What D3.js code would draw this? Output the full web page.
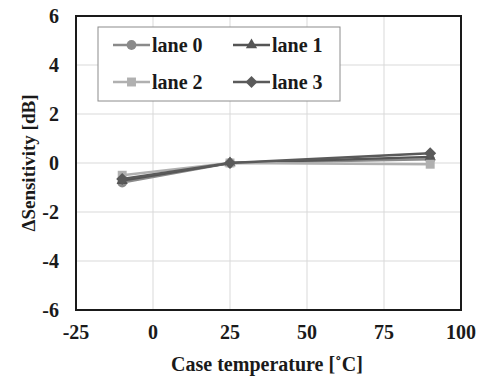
<!DOCTYPE html>
<html>
<head>
<meta charset="utf-8">
<script src="https://cdn.jsdelivr.net/npm/d3@7"></script>
<style>
  body { margin: 0; background: #fff; }
</style>
</head>
<body>
<svg id="chart" width="483" height="376"></svg>
<script>
const temps = [-10, 25, 90];
const laneNames = ['lane 0', 'lane 1', 'lane 2', 'lane 3'];
const lane0 = [-0.8, 0, 0.15];
const lane1 = [-0.72, 0, 0.25];
const lane2 = [-0.5, 0, -0.05];
const lane3 = [-0.65, 0, 0.4];
const xTicks = [-25, 0, 25, 50, 75, 100];
const yTicks = [-6, -4, -2, 0, 2, 4, 6];

const series = [
  { name: laneNames[0], values: lane0, color: '#8a8a8a', marker: 'circle' },
  { name: laneNames[1], values: lane1, color: '#555555', marker: 'triangle' },
  { name: laneNames[2], values: lane2, color: '#b0b0b0', marker: 'square' },
  { name: laneNames[3], values: lane3, color: '#5a5a5a', marker: 'diamond' }
];

const svg = d3.select('#chart');
const margin = { left: 76, right: 22, top: 16, bottom: 66 };
const width = 483, height = 376;
const ink = '#1a1a1a';
const serif = '"Liberation Serif", "Times New Roman", serif';

const x = d3.scaleLinear().domain([-25, 100]).range([margin.left, width - margin.right]);
const y = d3.scaleLinear().domain([-6, 6]).range([height - margin.bottom, margin.top]);

function label(sel, size) {
  sel.style('font-family', serif).style('font-weight', 'bold')
    .style('font-size', size + 'px').attr('fill', ink);
}

// grid
svg.append('g').selectAll('line').data(xTicks).enter().append('line')
  .attr('x1', d => x(d)).attr('x2', d => x(d))
  .attr('y1', y(-6)).attr('y2', y(6))
  .attr('stroke', '#d9d9d9').attr('stroke-width', 1);
svg.append('g').selectAll('line').data(yTicks).enter().append('line')
  .attr('x1', x(-25)).attr('x2', x(100))
  .attr('y1', d => y(d)).attr('y2', d => y(d))
  .attr('stroke', '#d9d9d9').attr('stroke-width', 1);

// tick labels
svg.append('g').selectAll('text').data(xTicks).enter().append('text')
  .attr('x', d => x(d)).attr('y', y(-6) + 29)
  .attr('text-anchor', 'middle').call(label, 20)
  .text(d => d);
svg.append('g').selectAll('text').data(yTicks).enter().append('text')
  .attr('x', x(-25) - 17).attr('y', d => y(d) + 7)
  .attr('text-anchor', 'end').call(label, 20)
  .text(d => d);

// axis titles
svg.append('text')
  .attr('x', 267).attr('y', 371)
  .attr('text-anchor', 'middle').call(label, 20)
  .text('Case temperature [\u02daC]');
svg.append('text')
  .attr('transform', `translate(35, ${(y(-6) + y(6)) / 2}) rotate(-90)`)
  .attr('text-anchor', 'middle').call(label, 19)
  .text('\u0394Sensitivity [dB]');

// markers
function marker(sel, type) {
  if (type === 'circle') sel.attr('d', d3.symbol().type(d3.symbolCircle).size(75));
  else if (type === 'triangle') sel.attr('d', d3.symbol().type(d3.symbolTriangle).size(55));
  else if (type === 'square') sel.attr('d', d3.symbol().type(d3.symbolSquare).size(80));
  else sel.attr('d', 'M0,-6L6,0L0,6L-6,0Z');
}

const line = d3.line().x((d, i) => x(temps[i])).y(d => y(d));

// series
series.forEach(s => {
  svg.append('path')
    .attr('d', line(s.values))
    .attr('fill', 'none')
    .attr('stroke', s.color)
    .attr('stroke-width', 2.5);
  svg.append('g').selectAll('path').data(s.values).enter().append('path')
    .attr('transform', (d, i) => `translate(${x(temps[i])},${y(d)})`)
    .attr('fill', s.color)
    .call(marker, s.marker);
});

// plot border
svg.append('rect')
  .attr('x', x(-25)).attr('y', y(6))
  .attr('width', x(100) - x(-25)).attr('height', y(-6) - y(6))
  .attr('fill', 'none').attr('stroke', ink).attr('stroke-width', 2);

// legend
const legend = svg.append('g');
legend.append('rect')
  .attr('x', 98).attr('y', 27).attr('width', 242).attr('height', 74)
  .attr('fill', '#fff').attr('stroke', '#8c8c8c').attr('stroke-width', 1);
const legendPos = [[113, 45], [233, 45], [113, 82], [233, 82]];
series.forEach((s, i) => {
  const [lx, ly] = legendPos[i];
  const g = legend.append('g');
  g.append('line')
    .attr('x1', lx).attr('x2', lx + 37).attr('y1', ly).attr('y2', ly)
    .attr('stroke', s.color).attr('stroke-width', 2.5);
  g.append('path')
    .attr('transform', `translate(${lx + 18.5},${ly})`)
    .attr('fill', s.color)
    .call(marker, s.marker);
  g.append('text')
    .attr('x', lx + 39).attr('y', ly + 7)
    .call(label, 20)
    .text(s.name);
});
</script>
</body>
</html>
